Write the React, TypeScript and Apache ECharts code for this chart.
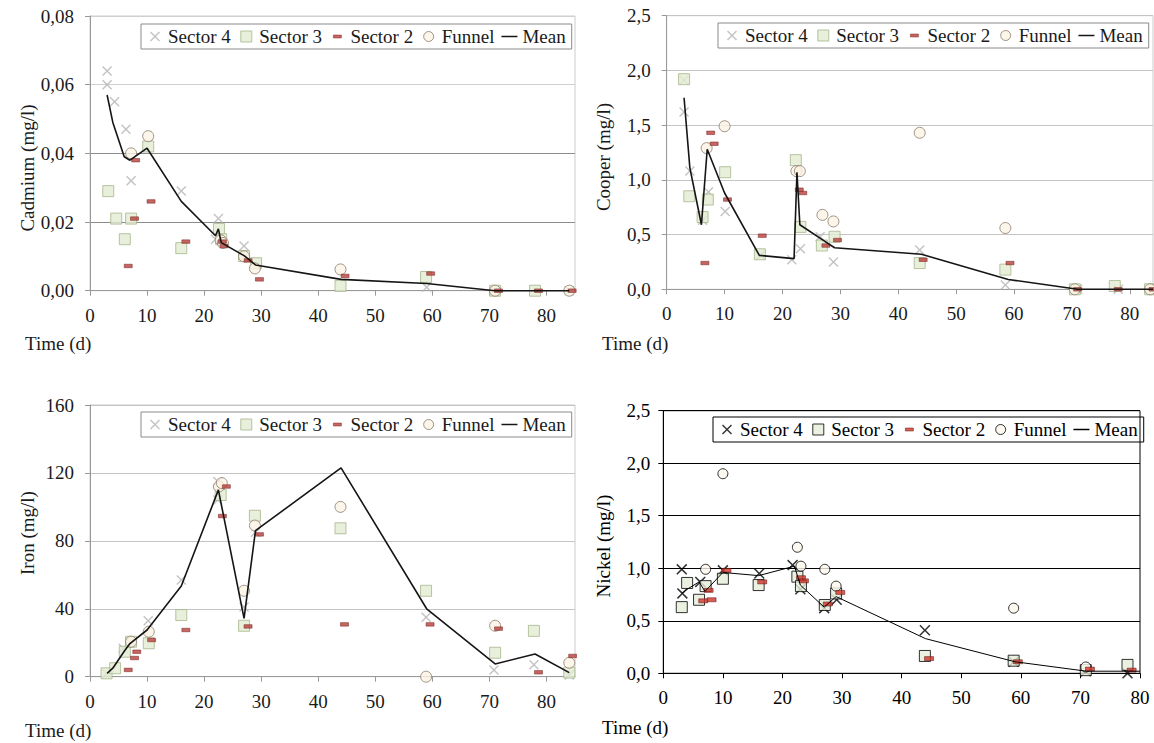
import React, { useEffect, useRef } from "react";
import * as echarts from "echarts";

type Pt = [number, number];
const FONT = '"Liberation Serif", "Times New Roman", Times, serif';
const FS = 19;

// ---------- Cadmium ----------
const cdSector4: Pt[] = [[3, 0.064], [3, 0.06], [4.3, 0.055], [6.3, 0.047], [7.2, 0.032], [16, 0.029], [22.5, 0.021], [22, 0.015], [27, 0.013], [59, 0.001], [71, 0], [84, 0]];
const cdSector3: Pt[] = [[3.2, 0.029], [4.6, 0.021], [6.1, 0.015], [7.2, 0.021], [10.2, 0.042], [16, 0.0124], [22.6, 0.018], [23, 0.015], [27, 0.0101], [29.1, 0.008], [43.9, 0.0014], [58.9, 0.004], [71, 0], [78, 0]];
const cdSector2: Pt[] = [[6.7, 0.0072], [7.8, 0.021], [8.0, 0.038], [10.7, 0.026], [16.8, 0.0143], [23.2, 0.0143], [23.5, 0.013], [27.7, 0.0088], [29.7, 0.0033], [44.7, 0.0043], [59.7, 0.005], [71.6, 0], [78.6, 0], [84.5, 0]];
const cdFunnel: Pt[] = [[7.2, 0.04], [10.2, 0.045], [22.9, 0.0147], [23.3, 0.0139], [27, 0.01], [28.9, 0.0065], [43.9, 0.0062], [71, 0], [84, 0]];
const cdMean: Pt[] = [[3, 0.057], [4, 0.049], [6, 0.039], [7, 0.038], [10, 0.0415], [16, 0.026], [22, 0.016], [22.5, 0.018], [23, 0.014], [27, 0.0102], [29, 0.0075], [44, 0.0033], [59, 0.0021], [71, 0], [78, 0], [84, 0]];

// ---------- Cooper ----------
const cuSector4: Pt[] = [[3, 1.91], [3, 1.62], [4, 1.08], [6.2, 0.63], [7.2, 0.89], [10.1, 0.71], [16.2, 0.31], [21.6, 0.27], [23.1, 0.37], [26.5, 0.48], [28.8, 0.25], [43.7, 0.36], [58.5, 0.04], [71, 0], [78, 0], [84, 0]];
const cuSector3: Pt[] = [[3, 1.92], [3.9, 0.85], [6.2, 0.66], [7.1, 0.82], [10.1, 1.07], [16.1, 0.32], [22.3, 1.18], [23.1, 0.57], [26.8, 0.4], [29, 0.48], [43.7, 0.24], [58.5, 0.18], [70.5, 0], [77.4, 0.03], [83.5, 0]];
const cuSector2: Pt[] = [[6.6, 0.24], [7.6, 1.43], [8.2, 1.33], [10.5, 0.82], [16.5, 0.49], [22.9, 0.91], [23.5, 0.88], [27.5, 0.4], [29.5, 0.45], [44.3, 0.27], [59.3, 0.24], [71, 0], [78, 0], [84, 0]];
const cuFunnel: Pt[] = [[6.9, 1.29], [10, 1.49], [22.4, 1.08], [23, 1.08], [26.9, 0.68], [28.8, 0.62], [43.7, 1.43], [58.5, 0.56], [70.5, 0], [83.5, 0]];
const cuMean: Pt[] = [[3, 1.75], [4, 1.11], [6, 0.59], [7, 1.28], [10, 0.88], [16, 0.31], [22, 0.28], [22.5, 1.07], [23, 0.59], [27, 0.45], [29, 0.38], [44, 0.32], [59, 0.09], [71, 0], [78, 0], [84, 0]];

// ---------- Iron ----------
const feSector4: Pt[] = [[2.9, 2], [5.8, 16.7], [7, 20.6], [10.2, 33], [16, 57], [22.4, 104], [22.4, 115], [27, 41], [29, 85], [58.9, 35], [70.8, 4], [77.8, 7], [84, 1]];
const feSector3: Pt[] = [[2.9, 2], [4.4, 5], [6.1, 14.7], [7.2, 20.6], [10.3, 19.7], [16, 36.3], [22.9, 107], [27, 30], [28.9, 94.8], [43.9, 87.4], [58.9, 50.6], [71, 14.1], [77.8, 27], [84, 2.4]];
const feSector2: Pt[] = [[6.7, 4], [7.8, 11], [8.2, 14.7], [10.8, 21.6], [16.8, 27.5], [23.2, 94.6], [23.9, 112], [27.7, 29.6], [29.7, 83.8], [44.6, 30.8], [59.6, 30.8], [71.6, 28.3], [78.6, 2.6], [84.6, 12.2]];
const feFunnel: Pt[] = [[7.2, 20.6], [10.3, 26.5], [22.6, 112], [23.1, 114], [27, 50.6], [28.9, 89], [43.9, 100], [58.9, 0], [71, 30], [84, 8.2]];
const feMean: Pt[] = [[3, 2], [4, 5], [6, 15], [7, 19.5], [10, 27.5], [16, 53.4], [22.5, 110], [27, 34.4], [29, 86], [44, 123], [59, 40], [71, 7.5], [78, 13.4], [84, 2.4]];

// ---------- Nickel ----------
const niSector4: Pt[] = [[3.1, 0.99], [3.2, 0.76], [6.2, 0.87], [10, 0.98], [16.1, 0.95], [21.7, 1.03], [23, 0.8], [27, 0.62], [29.1, 0.7], [43.9, 0.41], [58.8, 0.11], [70.9, 0.02], [77.9, 0]];
const niSector3: Pt[] = [[3.1, 0.63], [4, 0.86], [6, 0.7], [7.1, 0.83], [10, 0.9], [16, 0.84], [22.5, 0.92], [23.1, 0.83], [27.1, 0.65], [29, 0.76], [43.9, 0.165], [58.8, 0.12], [70.9, 0.03], [77.9, 0.08]];
const niSector2: Pt[] = [[6.7, 0.69], [7.6, 0.79], [8.1, 0.7], [10.6, 0.98], [16.6, 0.87], [23.1, 0.91], [23.6, 0.88], [27.6, 0.66], [29.7, 0.77], [44.6, 0.14], [59.5, 0.11], [71.6, 0.04], [78.6, 0.03]];
const niFunnel: Pt[] = [[7.1, 0.99], [10, 1.9], [22.5, 1.2], [23.1, 1.02], [27.1, 0.99], [29, 0.83], [58.8, 0.62], [70.9, 0.06]];
const niMean: Pt[] = [[3.1, 0.76], [4, 0.8], [6, 0.87], [7, 0.78], [10, 0.96], [16, 0.93], [22, 1.02], [23, 0.84], [27, 0.63], [29, 0.73], [44, 0.33], [59, 0.11], [71, 0.02], [80, 0.02]];

const seriesNames = ["Sector 4", "Sector 3", "Sector 2", "Funnel", "Mean"];

const X_SYMBOL = "path://M0,1L1,0L5,4L9,0L10,1L6,5L10,9L9,10L5,6L1,10L0,9L4,5Z";
const ICON_X = "path://M0,0M16,12M3,2L4,1L8,5L12,1L13,2L9,6L13,10L12,11L8,7L4,11L3,10L7,6Z";
const ICON_SQ = "path://M0,0M16,12M2.5,0.5L13.5,0.5L13.5,11.5L2.5,11.5Z";
const ICON_DASH = "path://M0,0M16,12M4,4.5L12,4.5L12,7.5L4,7.5Z";
const ICON_CIRC = "path://M0,0M16,12M3,6A5,5,0,1,0,13,6A5,5,0,1,0,3,6Z";
const ICON_LINE = "path://M0,0M16,12M0,5.25L16,5.25L16,6.75L0,6.75Z";

interface Style {
  x: string; xSize: number;
  sqFill: string; sqBorder: string; sqSize: number;
  dashFill: string; dashBorder: string; dashSize: [number, number];
  circFill: string; circBorder: string; circSize: number;
  mean: string; meanWidth: number;
  axis: string; grid: string | string[]; border: string; legendBorder: string; text: string;
}

const light: Style = {
  x: "#b4b4b4", xSize: 10,
  sqFill: "#e2ebd2", sqBorder: "#a6b68c", sqSize: 11,
  dashFill: "#b8403b", dashBorder: "#7a2522", dashSize: [8, 3.5],
  circFill: "#fbf2e3", circBorder: "#8b7b6b", circSize: 11,
  mean: "#151515", meanWidth: 1.6,
  axis: "#999999", grid: "#c4c4c4", border: "#cccccc", legendBorder: "#8a8a8a", text: "#1a1a1a",
};

const dark: Style = {
  x: "#000000", xSize: 11,
  sqFill: "#e6edd9", sqBorder: "#000000", sqSize: 11,
  dashFill: "#d0352b", dashBorder: "#5a1410", dashSize: [9, 4],
  circFill: "#fdf8ee", circBorder: "#000000", circSize: 10,
  mean: "#000000", meanWidth: 1,
  axis: "#000000", grid: "#000000", border: "#000000", legendBorder: "#000000", text: "#000000",
};

interface PanelCfg {
  left: number; top: number; height: number;
  grid: { left: number; top: number; width: number; height: number };
  xMax: number; yMax: number; yInterval: number; yDecimals: number; yMargin: number;
  yTitle: string; yTitlePos: [number, number]; xTitlePos: [number, number];
  legendPos: [number, number];
  s4: Pt[]; s3: Pt[]; s2: Pt[]; funnel: Pt[]; mean: Pt[];
  style: Style;
}

const panels: PanelCfg[] = [
  {
    left: 0, top: 0, height: 371,
    grid: { left: 90, top: 16, width: 485, height: 274.7 },
    xMax: 85, yMax: 0.08, yInterval: 0.02, yDecimals: 2, yMargin: 16,
    yTitle: "Cadmium (mg/l)", yTitlePos: [27, 168], xTitlePos: [25, 334],
    legendPos: [141, 24],
    s4: cdSector4, s3: cdSector3, s2: cdSector2, funnel: cdFunnel, mean: cdMean,
    style: { ...light, grid: ["#9a9a9a", "#8c8c8c", "#8c8c8c", "#cfcfcf", "#cfcfcf"] },
  },
  {
    left: 577, top: 0, height: 371,
    grid: { left: 89.7, top: 15.7, width: 486.3, height: 273.6 },
    xMax: 84, yMax: 2.5, yInterval: 0.5, yDecimals: 1, yMargin: 16,
    yTitle: "Cooper (mg/l)", yTitlePos: [26, 157], xTitlePos: [25, 334],
    legendPos: [141, 23],
    s4: cuSector4, s3: cuSector3, s2: cuSector2, funnel: cuFunnel, mean: cuMean,
    style: light,
  },
  {
    left: 0, top: 371, height: 372,
    grid: { left: 90, top: 34, width: 485, height: 271.7 },
    xMax: 85, yMax: 160, yInterval: 40, yDecimals: 0, yMargin: 16,
    yTitle: "Iron (mg/l)", yTitlePos: [27, 162], xTitlePos: [25, 350],
    legendPos: [141, 41],
    s4: feSector4, s3: feSector3, s2: feSector2, funnel: feFunnel, mean: feMean,
    style: light,
  },
  {
    left: 577, top: 371, height: 372,
    grid: { left: 86.3, top: 39.7, width: 476.7, height: 262.6 },
    xMax: 80, yMax: 2.5, yInterval: 0.5, yDecimals: 1, yMargin: 13,
    yTitle: "Nickel (mg/l)", yTitlePos: [26, 175], xTitlePos: [25, 347],
    legendPos: [136, 46],
    s4: niSector4, s3: niSector3, s2: niSector2, funnel: niFunnel, mean: niMean,
    style: dark,
  },
];

function buildOption(c: PanelCfg) {
  const st = c.style;
  return {
    animation: false,
    textStyle: { fontFamily: FONT },
    grid: {
      left: c.grid.left, top: c.grid.top, width: c.grid.width, height: c.grid.height,
      show: true, borderColor: st.border, borderWidth: 1, backgroundColor: "transparent",
    },
    xAxis: {
      type: "value", min: 0, max: c.xMax, interval: 10,
      axisLine: { show: true, onZero: false, lineStyle: { color: st.axis, width: 1 } },
      axisTick: { show: true, length: 5, lineStyle: { color: st.axis } },
      axisLabel: {
        fontSize: FS, fontFamily: FONT, color: st.text, margin: 15, showMaxLabel: c.xMax % 10 === 0,
        formatter: (v: number) => (Math.round(v) % 10 === 0 ? String(Math.round(v)) : ""),
      },
      splitLine: { show: false },
    },
    yAxis: {
      type: "value", min: 0, max: c.yMax, interval: c.yInterval,
      axisLine: { show: true, lineStyle: { color: st.axis, width: 1 } },
      axisTick: { show: true, length: 5, lineStyle: { color: st.axis } },
      axisLabel: {
        fontSize: FS, fontFamily: FONT, color: st.text, margin: c.yMargin,
        formatter: (v: number) => v.toFixed(c.yDecimals).replace(".", ","),
      },
      splitLine: { show: true, lineStyle: { color: st.grid, width: 1 } },
    },
    legend: {
      left: c.legendPos[0], top: c.legendPos[1], orient: "horizontal",
      itemWidth: 16, itemHeight: 12, itemGap: 7, padding: [3, 6],
      borderColor: st.legendBorder, borderWidth: 1, selectedMode: false,
      textStyle: { fontSize: FS, fontFamily: FONT, color: st.text },
      data: [
        { name: seriesNames[0], icon: ICON_X, itemStyle: { color: st.x, borderWidth: 0 } },
        { name: seriesNames[1], icon: ICON_SQ, itemStyle: { color: st.sqFill, borderColor: st.sqBorder, borderWidth: 1 } },
        { name: seriesNames[2], icon: ICON_DASH, itemStyle: { color: st.dashFill, borderColor: st.dashBorder, borderWidth: 0.6 } },
        { name: seriesNames[3], icon: ICON_CIRC, itemStyle: { color: st.circFill, borderColor: st.circBorder, borderWidth: 1 } },
        { name: seriesNames[4], icon: ICON_LINE, itemStyle: { color: st.mean, borderWidth: 0 } },
      ],
    },
    graphic: [
      {
        type: "text", x: c.yTitlePos[0], y: c.yTitlePos[1], rotation: Math.PI / 2, silent: true,
        style: { text: c.yTitle, fontSize: FS, fontFamily: FONT, fill: st.text, align: "center", verticalAlign: "middle" },
      },
      {
        type: "text", x: c.xTitlePos[0], y: c.xTitlePos[1], silent: true,
        style: { text: "Time (d)", fontSize: FS, fontFamily: FONT, fill: st.text, align: "left", verticalAlign: "top" },
      },
    ],
    series: [
      {
        name: seriesNames[0], type: "scatter", symbol: X_SYMBOL, symbolSize: st.xSize, clip: false, silent: true,
        itemStyle: { color: st.x }, data: c.s4, z: 2,
      },
      {
        name: seriesNames[1], type: "scatter", symbol: "rect", symbolSize: st.sqSize, clip: false, silent: true,
        itemStyle: { color: st.sqFill, borderColor: st.sqBorder, borderWidth: 1 }, data: c.s3, z: 3,
      },
      {
        name: seriesNames[2], type: "scatter", symbol: "rect", symbolSize: st.dashSize, clip: false, silent: true,
        itemStyle: { color: st.dashFill, borderColor: st.dashBorder, borderWidth: 0.6 }, data: c.s2, z: 4,
      },
      {
        name: seriesNames[3], type: "scatter", symbol: "circle", symbolSize: st.circSize, clip: false, silent: true,
        itemStyle: { color: st.circFill, borderColor: st.circBorder, borderWidth: 1 }, data: c.funnel, z: 3,
      },
      {
        name: seriesNames[4], type: "line", symbol: "none", showSymbol: false, clip: false, silent: true,
        lineStyle: { color: st.mean, width: st.meanWidth }, itemStyle: { color: st.mean }, data: c.mean, z: 5,
      },
    ],
  };
}

function Panel({ cfg }: { cfg: PanelCfg }) {
  const ref = useRef<HTMLDivElement>(null);
  useEffect(() => {
    if (!ref.current) return;
    const chart = echarts.init(ref.current, undefined, { renderer: "svg" });
    chart.setOption(buildOption(cfg) as any);
    return () => chart.dispose();
  }, [cfg]);
  return (
    <div
      ref={ref}
      style={{ position: "absolute", left: cfg.left, top: cfg.top, width: 577, height: cfg.height }}
    />
  );
}

export default function App() {
  return (
    <div style={{ position: "fixed", left: 0, top: 0, width: 1154, height: 743, background: "#ffffff", overflow: "hidden" }}>
      {panels.map((p, i) => (
        <Panel key={i} cfg={p} />
      ))}
    </div>
  );
}
